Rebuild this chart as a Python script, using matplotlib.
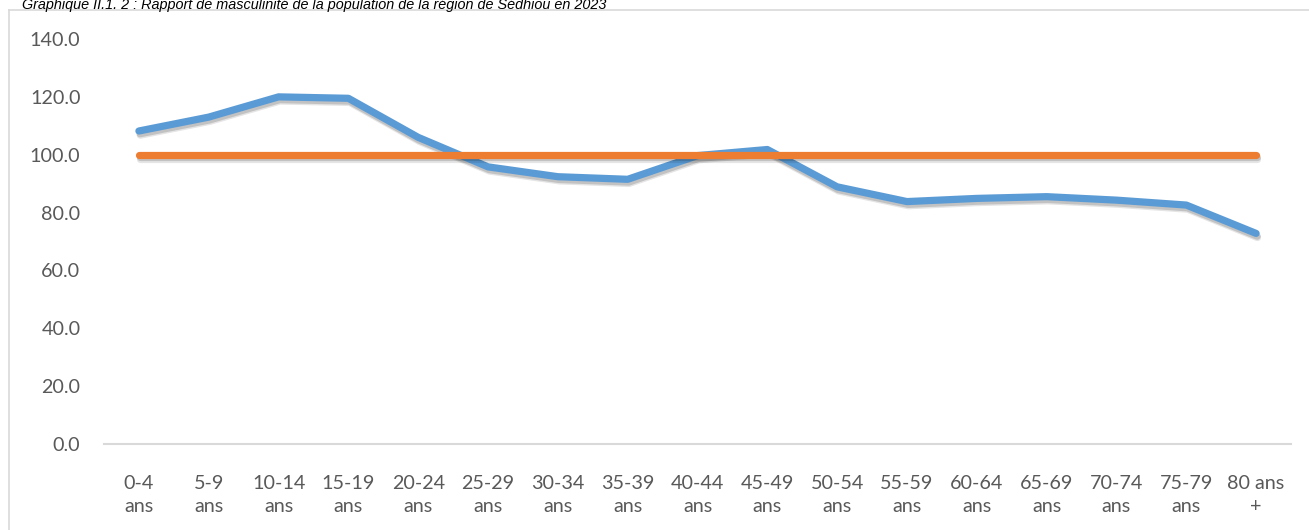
import matplotlib
matplotlib.use("Agg")
import matplotlib.pyplot as plt
import matplotlib.patheffects as pe
from matplotlib.lines import Line2D

categories = ["0-4\nans", "5-9\nans", "10-14\nans", "15-19\nans", "20-24\nans",
              "25-29\nans", "30-34\nans", "35-39\nans", "40-44\nans", "45-49\nans",
              "50-54\nans", "55-59\nans", "60-64\nans", "65-69\nans", "70-74\nans",
              "75-79\nans", "80 ans\n+"]
ratio = [108.2, 113.0, 120.0, 119.5, 106.0, 95.8, 92.4, 91.5, 99.7, 101.8,
         88.9, 83.8, 84.9, 85.5, 84.3, 82.6, 72.8]
reference = [100.0] * len(categories)
yticks = [0, 20, 40, 60, 80, 100, 120, 140]
title = "Graphique II.1. 2 : Rapport de masculinité de la population de la région de Sédhiou en 2023"

W, H = 1309, 530
fig = plt.figure(figsize=(W / 100, H / 100), dpi=100)
fig.patch.set_facecolor("white")

# outer frame (top and left edges visible)
fig.add_artist(Line2D([9 / W, 9 / W], [0, 1 - 10 / H], color="#D9D9D9", lw=1.2,
                      transform=fig.transFigure))
fig.add_artist(Line2D([9 / W, 1], [1 - 10 / H, 1 - 10 / H], color="#D9D9D9", lw=1.2,
                      transform=fig.transFigure))

fig.text(22 / W, 1 - 9.5 / H, title, fontsize=10.4, style="italic",
         family="Liberation Sans", color="#000000", ha="left", va="baseline")

left, right = 104 / W, 1291 / W
bottom, top = 1 - 444 / H, 1 - 39 / H
ax = fig.add_axes([left, bottom, right - left, top - bottom])
ax.set_facecolor("none")

x = list(range(len(categories)))
shadow = [pe.SimpleLineShadow(offset=(1.0, -3.0), shadow_color="black", alpha=0.10, rho=0.3),
          pe.SimpleLineShadow(offset=(0.8, -2.0), shadow_color="black", alpha=0.15, rho=0.3),
          pe.Normal()]
ax.plot(x, ratio, color="#5B9BD5", lw=5.2, solid_capstyle="round",
        solid_joinstyle="round", path_effects=shadow, zorder=3)
ax.plot(x, reference, color="#ED7D31", lw=5.2, solid_capstyle="round",
        solid_joinstyle="round", path_effects=shadow, zorder=4)

ax.set_xlim(-0.5, len(categories) - 0.5)
ax.set_ylim(0, 140)
ax.set_yticks(yticks)
ax.set_yticklabels([f"{v:.1f}" for v in yticks])
ax.set_xticks(x)
ax.set_xticklabels(categories, linespacing=1.45)

for s in ["top", "right", "left"]:
    ax.spines[s].set_visible(False)
ax.spines["bottom"].set_color("#D9D9D9")
ax.spines["bottom"].set_linewidth(1.5)

ax.tick_params(axis="both", length=0, colors="#595959", labelsize=14.2)
ax.tick_params(axis="y", pad=17)
ax.tick_params(axis="x", pad=22)
for lab in ax.get_xticklabels() + ax.get_yticklabels():
    lab.set_family("Lato")

fig.savefig("out.png", dpi=100)
